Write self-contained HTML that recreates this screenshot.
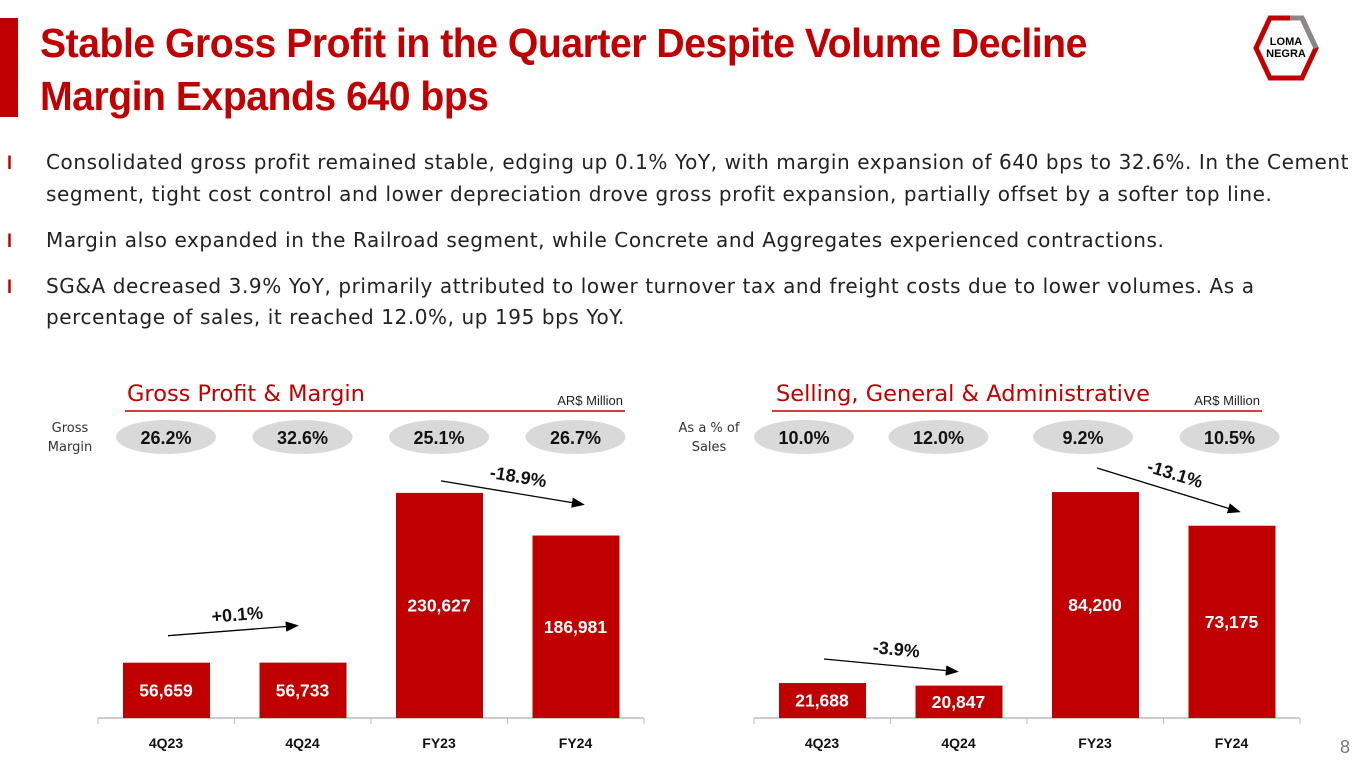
<!DOCTYPE html>
<html><head><meta charset="utf-8"><style>
body{margin:0;width:1365px;height:768px;overflow:hidden;background:#fff;font-family:"Liberation Sans",sans-serif;position:relative}
.t{position:absolute;white-space:nowrap}
.title{left:40px;color:#c00000;font-weight:bold;font-size:41px;transform:scaleX(0.955);transform-origin:left center;letter-spacing:-0.5px}
.b{left:46px;color:#222;font-family:"DejaVu Sans","Liberation Sans",sans-serif;font-size:20px;letter-spacing:0.58px}
.bl{left:7px;color:#c00000;font-weight:bold;font-size:18px}
</style></head><body>
<div style="position:absolute;left:0;top:18px;width:18px;height:99px;background:#c00000"></div>
<div class="t title" style="top:20px">Stable Gross Profit in the Quarter Despite Volume Decline</div>
<div class="t title" style="top:73px">Margin Expands 640 bps</div>
<svg style="position:absolute;left:1250px;top:14px" width="70" height="68" viewBox="0 0 70 68">
<polygon points="20,4 52,4 66,34 52,64 20,64 6,34" fill="none" stroke="#c00000" stroke-width="5"/>
<path d="M40,4 L52,4 L66,34" fill="none" stroke="#888" stroke-width="5"/>
<text x="36" y="31" text-anchor="middle" font-size="11" font-weight="bold" font-family="Liberation Sans">LOMA</text>
<text x="36" y="43" text-anchor="middle" font-size="11" font-weight="bold" font-family="Liberation Sans">NEGRA</text>
</svg>
<div class="t bl" style="top:153px">l</div>
<div class="t b" style="top:150px">Consolidated gross profit remained stable, edging up 0.1% YoY,  with margin expansion of 640 bps to 32.6%. In the Cement</div>
<div class="t b" style="top:182px">segment, tight cost control and lower depreciation drove gross profit expansion, partially offset by a softer top line.</div>
<div class="t bl" style="top:231px">l</div>
<div class="t b" style="top:228px">Margin also expanded in the Railroad segment, while Concrete and Aggregates experienced contractions.</div>
<div class="t bl" style="top:277px">l</div>
<div class="t b" style="top:274px">SG&amp;A decreased 3.9% YoY, primarily attributed to lower turnover tax and freight costs due to lower volumes. As a</div>
<div class="t b" style="top:305px">percentage of sales, it reached 12.0%, up 195 bps YoY.</div>
<div class="t" style="left:1340px;top:737px;font-size:18px;color:#777">8</div>
<svg id="charts" width="1365" height="768" style="position:absolute;left:0;top:0" font-family="Liberation Sans"></svg>
<script>
const categories=["4Q23","4Q24","FY23","FY24"];
const gpValues=[56659,56733,230627,186981];
const gpLabels=["56,659","56,733","230,627","186,981"];
const gpMargins=["26.2%","32.6%","25.1%","26.7%"];
const sgaValues=[21688,20847,84200,73175];
const sgaLabels=["21,688","20,847","84,200","73,175"];
const sgaMargins=["10.0%","12.0%","9.2%","10.5%"];
const gpChanges=["+0.1%","-18.9%"];
const sgaChanges=["-3.9%","-13.1%"];
const NS="http://www.w3.org/2000/svg";
const svg=document.getElementById('charts');
function mk(tag,attrs,parent){const e=document.createElementNS(NS,tag);for(const k in attrs)e.setAttribute(k,attrs[k]);(parent||svg).appendChild(e);return e;}
mk('defs',{}).innerHTML='<marker id="ah" markerWidth="10" markerHeight="8" refX="9" refY="4" orient="auto"><path d="M0,0 L10,4 L0,8 Z" fill="#000"/></marker>';
function chart(o){
  const g=mk('g',{});
  
  
  const base=718, step=136.5;
  const x=i=>o.x0+i*step;
  const y=v=>base-(v-o.vmin)*o.k;
  const h=mk('text',{x:o.hx,y:401,fill:'#c00000','font-size':22.5,'font-family':'DejaVu Sans'},g);h.textContent=o.title;
  
  const u=mk('text',{x:o.lx2-2,y:405,'text-anchor':'end','font-size':13,fill:'#222'},g);u.textContent='AR$ Million';
  
  const ln=mk('line',{x1:o.lx1,x2:o.lx2,y1:411,y2:411,stroke:'#c00000','stroke-width':1.5},g);
  
  o.side.forEach((s,j)=>{const t=mk('text',{x:o.sx,y:432+j*19,'text-anchor':'middle','font-size':13,fill:'#333','font-family':'DejaVu Sans'},g);t.textContent=s;
    });
  const ax=mk('line',{x1:x(0)-68,x2:x(3)+68,y1:base,y2:base,stroke:'#bbb','stroke-width':1.5},g);
  
  for(let i=0;i<=4;i++){const tk=mk('line',{x1:x(i)-68,x2:x(i)-68,y1:base,y2:base+6,stroke:'#bbb'},g);}
  categories.forEach((c,i)=>{
    const pe=mk('ellipse',{cx:x(i)+o.pOff[i],cy:437,rx:50,ry:17,fill:'#d9d9d9'},g);
    
    const pt=mk('text',{x:x(i)+o.pOff[i],y:444,'text-anchor':'middle','font-size':18,'font-weight':'bold',fill:'#111'},g);pt.textContent=o.margins[i];
    
    const top=y(o.values[i]);
    const r=mk('rect',{x:x(i)-43,y:top,width:87,height:base-top,fill:'#c00000'},g);
    
    const vt=mk('text',{x:x(i),y:(top+base)/2+6,'text-anchor':'middle','font-size':17.5,'font-weight':'bold',fill:'#fff'},g);vt.textContent=o.labels[i];
    
    const ct=mk('text',{x:x(i),y:748,'text-anchor':'middle','font-size':14,'font-weight':'bold',fill:'#111'},g);ct.textContent=c;
    
  });
  [[0,1],[2,3]].forEach((p,j)=>{
    const y1=y(o.values[p[0]])-o.aGap[j][0], y2=y(o.values[p[1]])-o.aGap[j][1];
    const x1=x(p[0])+2, x2=x(p[1])+o.aEnd[j];
    const a=mk('line',{x1:x1,y1:y1,x2:x2,y2:y2,stroke:'#000','stroke-width':1.3,'marker-end':'url(#ah)'},g);
    
    const mx=(x1+x2)/2+5, my=(y1+y2)/2-10;
    const ang=Math.atan2(y2-y1,x2-x1)*180/Math.PI;
    const t=mk('text',{x:mx,y:my,'text-anchor':'middle','font-size':18,'font-weight':'bold',fill:'#111',transform:`rotate(${ang} ${mx} ${my})`},g);t.textContent=o.changes[j];
    
  });
}
chart({name:'gross-profit-chart',title:'Gross Profit & Margin',x0:166,vmin:0,k:0.000976,values:gpValues,labels:gpLabels,margins:gpMargins,changes:gpChanges,
  hx:127,lx1:125,lx2:625,sx:70,side:['Gross','Margin'],pOff:[0,0,0,0],aGap:[[27,37],[12,31]],aEnd:[-5,8]});
chart({name:'sga-chart',title:'Selling, General & Administrative',x0:822,vmin:10240,k:0.003055,values:sgaValues,labels:sgaLabels,margins:sgaMargins,changes:sgaChanges,
  hx:776,lx1:772,lx2:1262,sx:709,side:['As a % of','Sales'],pOff:[-18,-20,-12,-2],aGap:[[24,14],[24,14]],aEnd:[-1,8]});
</script>
</body></html>
